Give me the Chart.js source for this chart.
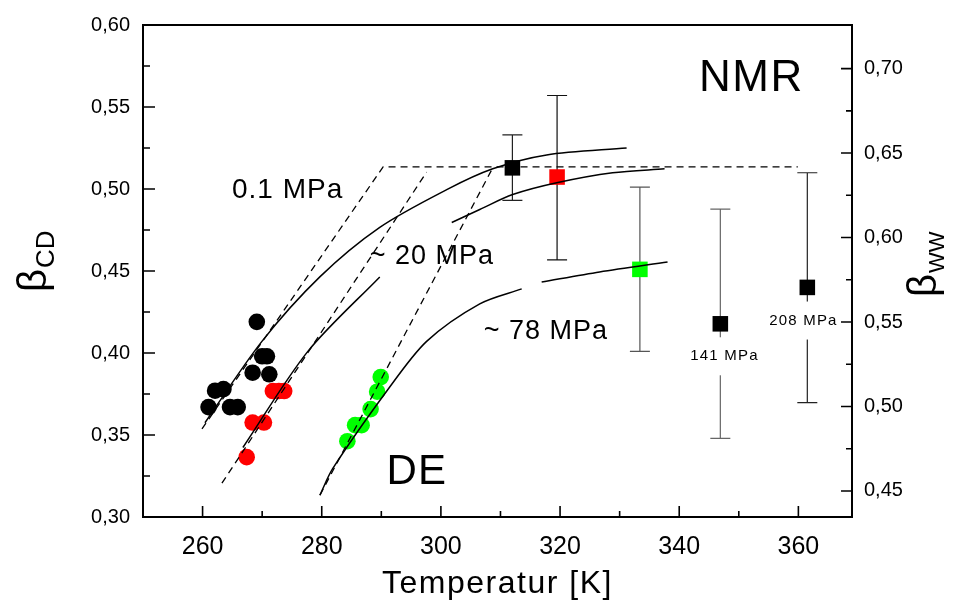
<!DOCTYPE html>
<html>
<head>
<meta charset="utf-8">
<script src="https://cdn.jsdelivr.net/npm/chart.js@4.4.0/dist/chart.umd.min.js"></script>
<style>
html,body{margin:0;padding:0;background:#fff;}
#wrap{width:973px;height:605px;}
</style>
</head>
<body>
<div id="wrap"><canvas id="c" width="973" height="605"></canvas></div>
<script>
// ---------- tick values ----------
const xMajor = [260, 280, 300, 320, 340, 360];
const xMinor = [270, 290, 310, 330, 350];
const yMajor = [0.30, 0.35, 0.40, 0.45, 0.50, 0.55, 0.60];
const yMinor = [0.325, 0.375, 0.425, 0.475, 0.525, 0.575];
const y2Major = [0.45, 0.50, 0.55, 0.60, 0.65, 0.70];
const y2Minor = [0.475, 0.525, 0.575, 0.625, 0.675];

// ---------- DE data (circles) ----------
const deT_01 = [261.0, 262.1, 263.5, 264.6, 265.9, 268.4, 269.1, 270.0, 270.8, 271.2];
const deB_01 = [0.367, 0.377, 0.378, 0.367, 0.367, 0.388, 0.419, 0.398, 0.398, 0.387];
const deT_20 = [267.4, 268.4, 270.3, 271.8, 272.8, 273.7];
const deB_20 = [0.3365, 0.3576, 0.3576, 0.3768, 0.3768, 0.3768];
const deT_78 = [284.3, 285.6, 286.7, 288.2, 289.3, 289.9];
const deB_78 = [0.3462, 0.356, 0.356, 0.3658, 0.3764, 0.3853];

// ---------- NMR data (squares with error bars) ----------
const nmrT    = [312.0, 319.5, 333.4, 346.9, 361.5];
const nmrB    = [0.5129, 0.5073, 0.451, 0.4178, 0.440];
const nmrLow  = [0.4931, 0.4568, 0.401, 0.348, 0.3698];
const nmrHigh = [0.533, 0.557, 0.5012, 0.4877, 0.5099];

// ---------- solid fit curves ----------
const c01T  = [260.4, 269.96, 279.68, 289.74, 300.98, 308.70, 317.75, 331.17];
const c01B  = [0.3575, 0.4071, 0.4464, 0.4766, 0.4996, 0.5123, 0.5208, 0.5250];
const c20aT = [266.77, 277.67, 289.74];
const c20aB = [0.3424, 0.4010, 0.4464];
const c20bT = [301.82, 306.52, 312.05, 319.43, 328.82, 337.54];
const c20bB = [0.4796, 0.4875, 0.4966, 0.5038, 0.5099, 0.5123];
const c78aT = [279.68, 281.86, 290.92, 297.6, 306.52, 313.56];
const c78aB = [0.3133, 0.3296, 0.3768, 0.4071, 0.4300, 0.4391];
const c78bT = [316.91, 326.64, 338.04];
const c78bB = [0.4433, 0.4494, 0.4555];

// ---------- dashed guide lines ----------
const dAT = [259.9, 290.3, 359.9];
const dAB = [0.3537, 0.5135, 0.5135];
const dBT = [263.25, 297.6];
const dBB = [0.3206, 0.5103];
const dCT = [279.7, 308.7];
const dCB = [0.3133, 0.5129];

const pts = (xs, ys) => xs.map((v, i) => ({x: v, y: ys[i]}));
const fmt = v => v.toFixed(2).replace('.', ',');
const FONT = "'Liberation Sans', Arial, sans-serif";

const lineDs = (xs, ys, dash) => ({
  data: pts(xs, ys), showLine: true, pointRadius: 0, borderColor: '#000',
  borderWidth: dash ? 1.3 : 1.5, borderDash: dash ? [7, 5] : [],
  tension: dash ? 0 : 0.3, fill: false
});
const dotDs = (xs, ys, col) => ({
  data: pts(xs, ys), showLine: false, pointRadius: 8.3, pointStyle: 'circle',
  pointBackgroundColor: col, pointBorderWidth: 0, borderColor: col
});

const nmrColors = ['#000000', '#ff0000', '#00ff00', '#000000', '#000000'];
const nmrBarColors = ['#222', '#111', '#555', '#666', '#222'];

const notes = [
  {text: 'NMR', x: 352.1, y: 0.5673, size: 44, align: 'center', base: 'middle', ls: 1.5},
  {text: 'DE', x: 295.95, y: 0.3272, size: 42, align: 'center', base: 'middle', ls: 1},
  {text: '0.1 MPa', x: 264.93, y: 0.4948, size: 28, align: 'left', base: 'alphabetic', ls: 1},
  {text: '~ 20 MPa', x: 288.07, y: 0.4542, size: 27, align: 'left', base: 'alphabetic', ls: 1},
  {text: '~ 78 MPa', x: 307.19, y: 0.4083, size: 27, align: 'left', base: 'alphabetic', ls: 1},
  {text: '141 MPa', x: 347.6, y: 0.398, size: 15, align: 'center', base: 'middle', ls: 1.2, bg: true},
  {text: '208 MPa', x: 360.85, y: 0.4198, size: 15, align: 'center', base: 'middle', ls: 1.2, bg: true}
];

const decor = {
  id: 'decor',
  beforeDatasetsDraw(chart) {
    const {ctx, scales: {x, y}} = chart;
    ctx.save();
    ctx.lineWidth = 1.2;
    nmrT.forEach((t, i) => {
      const cx = x.getPixelForValue(t);
      const yl = y.getPixelForValue(nmrLow[i]), yh = y.getPixelForValue(nmrHigh[i]);
      ctx.strokeStyle = nmrBarColors[i];
      ctx.beginPath();
      ctx.moveTo(cx, yl); ctx.lineTo(cx, yh);
      ctx.moveTo(cx - 10, yl); ctx.lineTo(cx + 10, yl);
      ctx.moveTo(cx - 10, yh); ctx.lineTo(cx + 10, yh);
      ctx.stroke();
    });
    ctx.restore();
  },
  afterDatasetsDraw(chart) {
    const {ctx, scales: {x, y}} = chart;
    notes.forEach(n => {
      ctx.save();
      ctx.font = n.size + 'px ' + FONT;
      try { ctx.letterSpacing = n.ls + 'px'; } catch (e) {}
      ctx.textAlign = n.align;
      ctx.textBaseline = n.base;
      const px = x.getPixelForValue(n.x), py = y.getPixelForValue(n.y);
      if (n.bg) {
        const w = ctx.measureText(n.text).width + 4;
        ctx.fillStyle = '#fff';
        ctx.fillRect(px - w / 2, py - 19, w, 38);
      }
      ctx.fillStyle = '#000';
      ctx.fillText(n.text, px, py);
      ctx.restore();
    });
  },
  afterDraw(chart) {
    const {ctx, chartArea: a, scales: {x, y, y2}} = chart;
    ctx.save();
    ctx.strokeStyle = '#000';
    ctx.lineWidth = 2;
    ctx.strokeRect(a.left, a.top, a.right - a.left, a.bottom - a.top);
    ctx.lineWidth = 1.6;
    ctx.beginPath();
    yMajor.forEach(v => { const p = y.getPixelForValue(v); ctx.moveTo(a.left, p); ctx.lineTo(a.left + 12, p); });
    yMinor.forEach(v => { const p = y.getPixelForValue(v); ctx.moveTo(a.left, p); ctx.lineTo(a.left + 7, p); });
    xMajor.forEach(v => { const p = x.getPixelForValue(v); ctx.moveTo(p, a.bottom); ctx.lineTo(p, a.bottom - 11); });
    xMinor.forEach(v => { const p = x.getPixelForValue(v); ctx.moveTo(p, a.bottom); ctx.lineTo(p, a.bottom - 6); });
    y2Major.forEach(v => { const p = y2.getPixelForValue(v); ctx.moveTo(a.right, p); ctx.lineTo(a.right - 11, p); });
    y2Minor.forEach(v => { const p = y2.getPixelForValue(v); ctx.moveTo(a.right, p); ctx.lineTo(a.right - 6, p); });
    ctx.stroke();

    ctx.fillStyle = '#000';
    // bottom title
    ctx.save();
    ctx.font = '32px ' + FONT;
    try { ctx.letterSpacing = '1.5px'; } catch (e) {}
    ctx.textAlign = 'center';
    ctx.textBaseline = 'alphabetic';
    ctx.fillText('Temperatur [K]', (a.left + a.right) / 2, 593);
    ctx.restore();

    const drawBeta = (bx, by, sub, subSize) => {
      ctx.save();
      ctx.translate(bx, by);
      ctx.rotate(-Math.PI / 2);
      ctx.textAlign = 'left';
      ctx.textBaseline = 'alphabetic';
      ctx.font = '40px ' + FONT;
      ctx.fillText('\u03B2', 0, 0);
      const w = ctx.measureText('\u03B2').width;
      ctx.font = subSize + 'px ' + FONT;
      ctx.fillText(sub, w + 1, 8);
      ctx.restore();
    };
    drawBeta(46, 292, 'CD', 26);
    drawBeta(936, 297, 'WW', 22);
    ctx.restore();
  }
};

new Chart(document.getElementById('c'), {
  type: 'scatter',
  data: {
    datasets: [
      lineDs(c01T, c01B, false),
      lineDs(c20aT, c20aB, false),
      lineDs(c20bT, c20bB, false),
      lineDs(c78aT, c78aB, false),
      lineDs(c78bT, c78bB, false),
      lineDs(dAT, dAB, true),
      lineDs(dBT, dBB, true),
      lineDs(dCT, dCB, true),
      {
        data: pts(nmrT, nmrB), showLine: false, pointStyle: 'rect', pointRadius: 11,
        pointBackgroundColor: nmrColors, pointBorderWidth: 0, borderColor: nmrColors
      },
      dotDs(deT_01, deB_01, '#000000'),
      dotDs(deT_20, deB_20, '#ff0000'),
      dotDs(deT_78, deB_78, '#00ff00')
    ]
  },
  options: {
    responsive: false,
    animation: false,
    devicePixelRatio: 1,
    layout: {padding: {top: 21, left: 0, right: 0, bottom: 0}},
    plugins: {legend: {display: false}, tooltip: {enabled: false}},
    scales: {
      x: {
        type: 'linear', position: 'bottom', min: 250, max: 369,
        afterFit: s => { s.height = 88; },
        afterBuildTicks: s => { s.ticks = xMajor.map(v => ({value: v})); },
        grid: {display: false, drawTicks: false},
        border: {display: false},
        ticks: {font: {family: FONT, size: 25}, color: '#000', padding: 15, maxRotation: 0, autoSkip: false,
                callback: v => String(v)}
      },
      y: {
        type: 'linear', position: 'left', min: 0.30, max: 0.60,
        afterFit: s => { s.width = 143; },
        afterBuildTicks: s => { s.ticks = yMajor.map(v => ({value: v})); },
        grid: {display: false, drawTicks: false},
        border: {display: false},
        ticks: {font: {family: FONT, size: 20}, color: '#000', padding: 13, autoSkip: false, callback: v => fmt(v)}
      },
      y2: {
        type: 'linear', position: 'right', min: 0.4346, max: 0.7258,
        afterFit: s => { s.width = 121; },
        afterBuildTicks: s => { s.ticks = y2Major.map(v => ({value: v})); },
        grid: {display: false, drawTicks: false},
        border: {display: false},
        ticks: {font: {family: FONT, size: 20}, color: '#000', padding: 12, autoSkip: false, callback: v => fmt(v)}
      }
    }
  },
  plugins: [decor]
});
</script>
</body>
</html>
